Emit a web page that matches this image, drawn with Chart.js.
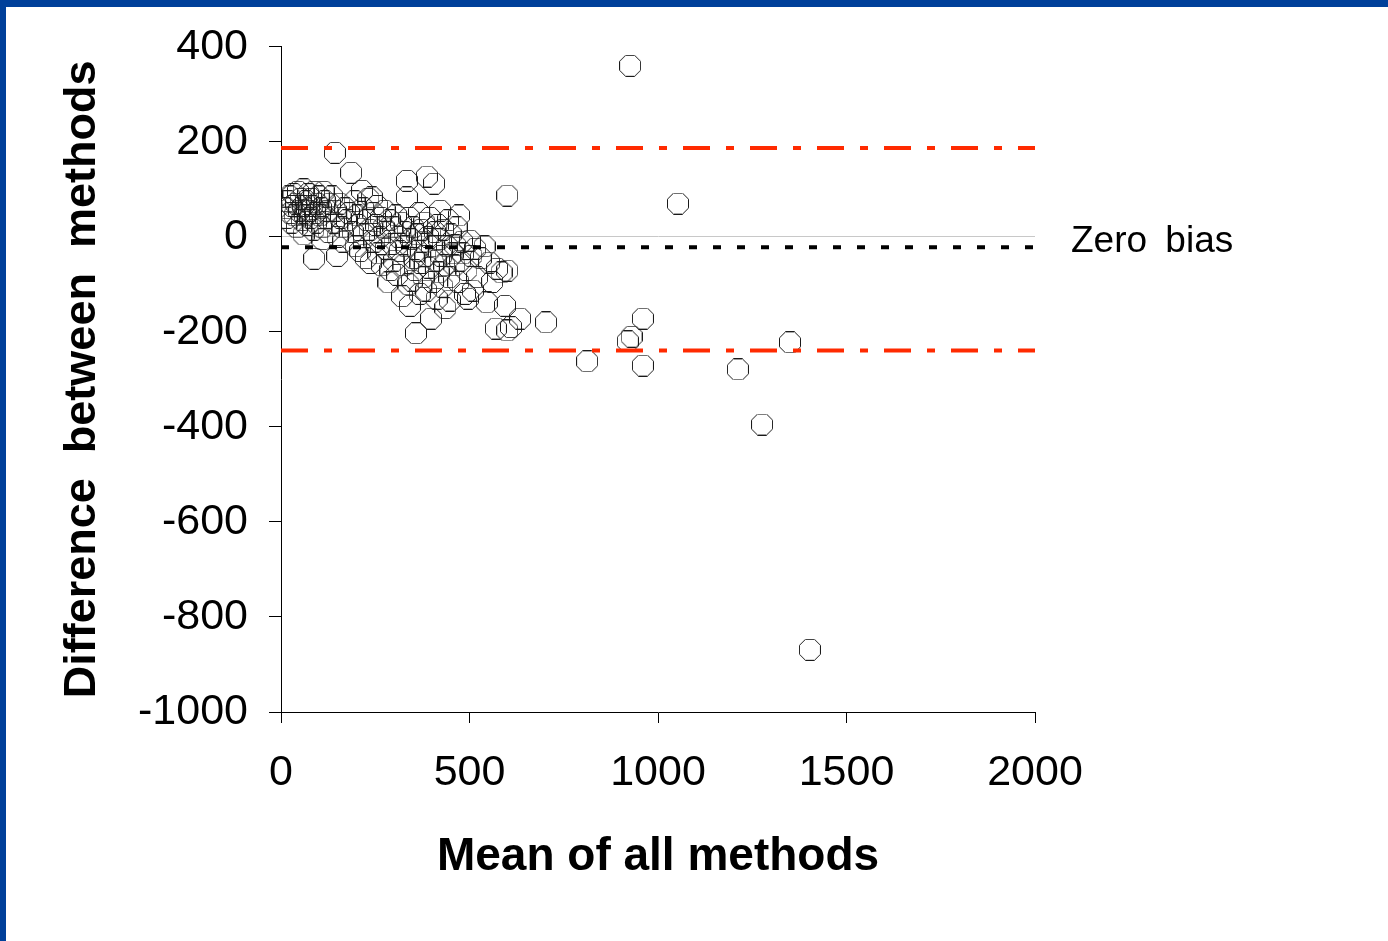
<!DOCTYPE html>
<html>
<head>
<meta charset="utf-8">
<script src="https://cdn.jsdelivr.net/npm/chart.js@4.4.0/dist/chart.umd.min.js"></script>
<style>
  html, body { margin: 0; padding: 0; background: #fff; }
  body { width: 1388px; height: 941px; position: relative; overflow: hidden; }
  #myChart { position: absolute; left: 0; top: 0; }
  .bar { position: absolute; background: #00409a; }
</style>
</head>
<body>
<canvas id="myChart" width="1388" height="941"></canvas>
<div class="bar" style="left:0;top:0;width:1388px;height:7px"></div>
<div class="bar" style="left:0;top:0;width:6px;height:941px"></div>
<script>
// mean of all methods (x) and difference between methods (y)
const meanValues = [
  12, 15, 18, 22, 25, 28, 30, 33, 36, 40, 42, 45, 48, 52, 55, 58, 60, 63, 66, 70,
  72, 75, 78, 80, 83, 86, 88, 90, 93, 96, 100, 103, 106, 110, 113, 116, 120, 123, 126, 130,
  88, 149, 60, 110,
  135, 140, 143, 145, 150, 155, 158, 162, 165, 170, 175, 180, 186, 190, 195, 198, 202, 205, 210, 215,
  218, 220, 225, 228, 232, 235, 238, 241, 245, 248, 252, 255, 258, 262, 265, 268, 272, 275, 278, 282,
  285, 288, 290,
  295, 298, 300, 305, 308, 312, 315, 318, 321, 325, 328, 331, 334, 334, 338, 340, 342, 345, 347, 350,
  352, 355, 358, 360, 363, 366, 368, 370, 372, 375, 378, 380, 383, 385, 387, 390, 392, 395, 398, 400,
  403, 406, 408, 410, 413, 416, 418, 420, 422, 425, 428, 430, 433, 436, 440, 443, 446, 448, 450,
  455, 460, 462, 466, 470, 472, 475, 480, 483, 488, 492, 496, 501, 505, 509, 515, 520, 530, 540, 546,
  552, 560, 570, 573, 585, 594, 600, 600, 600, 610, 634,
  926, 1053, 703, 812, 920, 930, 960, 960, 1212, 1276, 1350, 1403
];
const diffValues = [
  60, 40, 75, 85, 50, 30, 65, 90, 45, 70, 20, 95, 55, 80, 35, 65, 100, 45, 75, 25,
  90, 55, 40, 80, 65, 15, 95, 50, 30, 70, 85, 45, 60, 20, 95, 75, 40, 55, 10, 70,
  -46, -40, 5, -5,
  85, 30, 177, 55, 0, 70, 40, 20, -10, 60, 35, 50, 135, 10, 75, -20, 45, 25, -30, 97,
  60, 5, -45, 35, 80, 15, -55, 83, 50, -10, 25, 65, -35, 0, 40, -60, 20, 55, -25, 10,
  -96, 35, -70,
  -15, 20, -50, 45, -80, 0, -30, 30, -125, -60, 10, -20, 83, 118, -100, 40, -145, -5, -92, 20,
  -45, -70, -203, 5, -30, 50, -120, -55, 15, -10, -85, 30, -40, -113, 127, 0, -65, 40, -172, -20,
  -95, 112, 10, -50, -130, 25, -75, -5, 55, -40, -105, 15, -60, -150, -20, 35, -85, -134, 5,
  -35, -60, -18, 20, -95, 45, -50, -10, -35, -120, -70, -130, -8, -40, -113, -25, -85, -45, -20, -138,
  -54, -95, -193, -67, -75, -145, -71, -197, 87, -190, -172,
  360, 70, -180, -262, -220, -210, -172, -271, -279, -395, -222, -869
];

const biasMean = -22;
const upperLimit = 187;
const lowerLimit = -239;
const xRange = [0, 2000];
const xTicks = [0, 500, 1000, 1500, 2000];
const yTicks = [-1000, -800, -600, -400, -200, 0, 200, 400];

const points = meanValues.map((m, i) => ({ x: m, y: diffValues[i] }));

// octagon marker
function makeOctagon() {
  const c = document.createElement("canvas");
  c.width = 22;
  c.height = 22;
  const g = c.getContext("2d");
  g.strokeStyle = "#1a1a1a";
  g.lineWidth = 1;
  g.beginPath();
  g.moveTo(6.5, 0.5);
  g.lineTo(15.5, 0.5);
  g.lineTo(21.5, 6.5);
  g.lineTo(21.5, 15.5);
  g.lineTo(15.5, 21.5);
  g.lineTo(6.5, 21.5);
  g.lineTo(0.5, 15.5);
  g.lineTo(0.5, 6.5);
  g.closePath();
  g.stroke();
  return c;
}
const octagon = makeOctagon();

function hLine(value) {
  return xRange.map((x) => ({ x: x, y: value }));
}

const zeroLabel = {
  id: "zeroLabel",
  afterDraw(chart) {
    const ctx = chart.ctx;
    const y = chart.scales.y.getPixelForValue(0);
    ctx.save();
    ctx.font = "37px 'Liberation Sans', Arial, sans-serif";
    ctx.fillStyle = "#000";
    ctx.textBaseline = "middle";
    ctx.textAlign = "left";
    if ("wordSpacing" in ctx) ctx.wordSpacing = "8px";
    ctx.fillText("Zero bias", chart.chartArea.right + 36, y + 5);
    ctx.restore();
  },
};

const tickFont = { family: "'Liberation Sans', Arial, sans-serif", size: 43 };
const plainLabel = (v) => String(v);

const config = {
  type: "scatter",
  data: {
    datasets: [
      {
        type: "line",
        data: hLine(upperLimit),
        borderColor: "#ff2a00",
        borderWidth: 4,
        borderDash: [27, 16, 8, 16],
        pointRadius: 0,
        fill: false,
      },
      {
        type: "line",
        data: hLine(lowerLimit),
        borderColor: "#ff2a00",
        borderWidth: 4,
        borderDash: [27, 16, 8, 16],
        pointRadius: 0,
        fill: false,
      },
      {
        type: "line",
        data: hLine(biasMean),
        borderColor: "#000",
        borderWidth: 4,
        borderDash: [8, 16],
        pointRadius: 0,
        fill: false,
      },
      {
        data: points,
        pointStyle: octagon,
        pointRadius: 11,
      },
    ],
  },
  options: {
    responsive: false,
    animation: false,
    layout: { padding: { left: 0, right: 353, top: 46, bottom: 0 } },
    plugins: {
      legend: { display: false },
      tooltip: { enabled: false },
    },
    scales: {
      x: {
        type: "linear",
        min: 0,
        max: 2000,
        afterFit: (s) => { s.height = 229; },
        afterBuildTicks: (s) => { s.ticks = xTicks.map((v) => ({ value: v })); },
        border: { display: true, color: "#000", width: 1 },
        grid: { drawOnChartArea: false, tickLength: 11, tickColor: "#000", color: "#000" },
        ticks: { font: tickFont, color: "#000", padding: 24, maxRotation: 0, callback: plainLabel },
        title: {
          display: true,
          text: "Mean of all methods",
          color: "#000",
          font: { family: "'Liberation Sans', Arial, sans-serif", size: 46, weight: "bold" },
          padding: { top: 0, bottom: 56 },
        },
      },
      y: {
        type: "linear",
        min: -1000,
        max: 400,
        afterFit: (s) => { s.width = 281; },
        afterBuildTicks: (s) => { s.ticks = yTicks.map((v) => ({ value: v })); },
        border: { display: true, color: "#000", width: 1 },
        grid: {
          tickLength: 12,
          tickColor: "#000",
          color: (ctx) => (ctx.tick && ctx.tick.value === 0 ? "#c8c8c8" : "rgba(0,0,0,0)"),
        },
        ticks: { font: tickFont, color: "#000", padding: 21, callback: plainLabel },
        title: {
          display: true,
          text: "Difference  between  methods",
          color: "#000",
          font: { family: "'Liberation Sans', Arial, sans-serif", size: 45, weight: "bold" },
          padding: { top: 56, bottom: 0 },
        },
      },
    },
  },
  plugins: [zeroLabel],
};

var myChart = new Chart(document.getElementById("myChart"), config);
</script>
</body>
</html>
